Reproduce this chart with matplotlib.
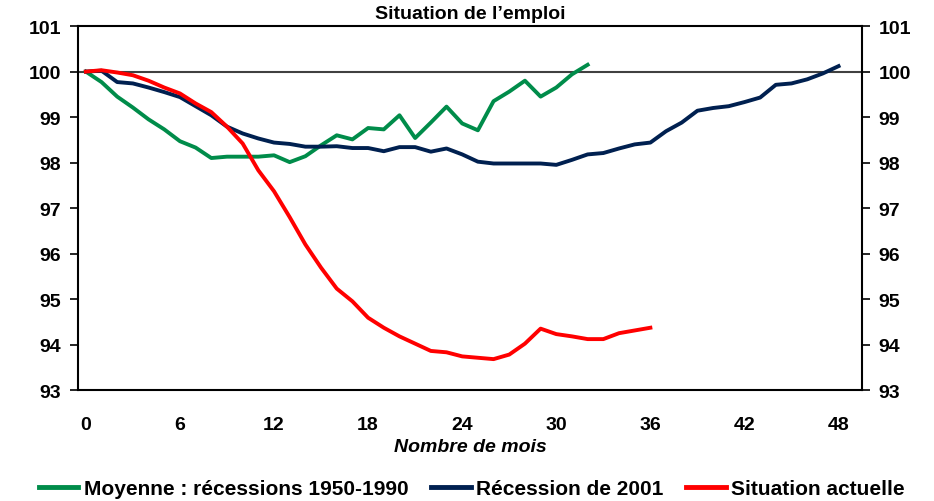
import matplotlib.pyplot as plt

plt.rcParams['font.family'] = ['Liberation Sans', 'DejaVu Sans']

# data (index 100 = start of recession)
months_avg = list(range(33))
avg_1950_1990 = [100.00, 99.77, 99.45, 99.21, 98.95, 98.73, 98.47, 98.33, 98.10, 98.13,
                 98.13, 98.13, 98.16, 98.01, 98.14, 98.38, 98.60, 98.51, 98.76, 98.73,
                 99.04, 98.54, 98.88, 99.23, 98.86, 98.71, 99.35, 99.56, 99.80, 99.45,
                 99.65, 99.94, 100.15]

months_2001 = list(range(49))
rec_2001 = [100.00, 100.02, 99.77, 99.74, 99.65, 99.55, 99.44, 99.24, 99.04, 98.79,
            98.64, 98.53, 98.44, 98.41, 98.35, 98.35, 98.36, 98.32, 98.32, 98.25,
            98.34, 98.34, 98.24, 98.31, 98.18, 98.02, 97.98, 97.98, 97.98, 97.98,
            97.95, 98.06, 98.18, 98.21, 98.31, 98.40, 98.44, 98.69, 98.88, 99.14,
            99.20, 99.24, 99.33, 99.43, 99.71, 99.74, 99.83, 99.96, 100.12]

months_now = list(range(37))
current = [100.00, 100.03, 99.98, 99.92, 99.80, 99.65, 99.52, 99.30, 99.11, 98.79,
           98.42, 97.83, 97.37, 96.80, 96.20, 95.69, 95.23, 94.95, 94.59, 94.37,
           94.18, 94.02, 93.86, 93.83, 93.74, 93.71, 93.68, 93.78, 94.02, 94.35,
           94.23, 94.18, 94.12, 94.12, 94.25, 94.31, 94.37]

labels = ['Moyenne : récessions 1950-1990', 'Récession de 2001', 'Situation actuelle']
colors = ['#008C4A', '#002050', '#FF0000']

fig = plt.figure(figsize=(9.34, 5.02), dpi=100)
ax = fig.add_axes([0.0835, 0.221, 0.8395, 0.725])

ax.axhline(100, color='#404040', lw=1.5, zorder=1)
ax.plot(months_avg, avg_1950_1990, color=colors[0], lw=2.8, label=labels[0])
ax.plot(months_2001, rec_2001, color=colors[1], lw=2.8, label=labels[1])
ax.plot(months_now, current, color=colors[2], lw=2.8, label=labels[2])

ax.set_xlim(-0.5, 49.5)
ax.set_ylim(93, 101)
ax.set_xticks(range(0, 49, 6))
ax.set_yticks(range(93, 102))
ax.tick_params(axis='x', length=0, pad=19, labelsize=14)
ax.tick_params(axis='y', direction='out', length=6, width=1.2, labelsize=14,
               right=True, labelright=True, pad=6)
for lab in ax.get_xticklabels() + ax.get_yticklabels():
    lab.set_fontweight('bold')
for side in ['left', 'right', 'top', 'bottom']:
    ax.spines[side].set_linewidth(1.5)

ax.set_title("Situation de l’emploi", fontsize=14, fontweight='bold', pad=6)
ax.set_xlabel('Nombre de mois', fontsize=14, fontweight='bold', style='italic', labelpad=3)

leg = fig.legend(loc='lower center', bbox_to_anchor=(0.505, -0.032), ncol=3, frameon=False,
                 prop={'size': 15, 'weight': 'bold'}, handlelength=1.9, handletextpad=0.25,
                 columnspacing=1.1)
for line in leg.get_lines():
    line.set_linewidth(3.5)

fig.savefig('out.png', dpi=100)
